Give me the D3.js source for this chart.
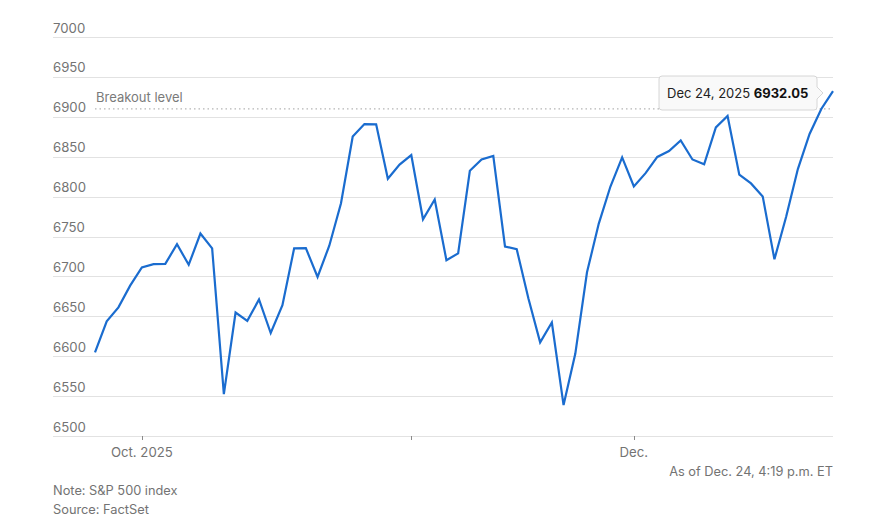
<!DOCTYPE html>
<html>
<head>
<meta charset="utf-8">
<script src="https://cdn.jsdelivr.net/npm/d3@7"></script>
<style>
  html, body { margin: 0; padding: 0; background: #fff; }
  svg { display: block; font-family: Inter, "Liberation Sans", Arial, sans-serif; }
</style>
</head>
<body>
<svg id="chart" width="886" height="523"></svg>
<script>
// ---- Data ----
const dates = [
  "2025-09-25","2025-09-26","2025-09-29","2025-09-30",
  "2025-10-01","2025-10-02","2025-10-03","2025-10-06","2025-10-07","2025-10-08","2025-10-09","2025-10-10",
  "2025-10-13","2025-10-14","2025-10-15","2025-10-16","2025-10-17","2025-10-20","2025-10-21","2025-10-22",
  "2025-10-23","2025-10-24","2025-10-27","2025-10-28","2025-10-29","2025-10-30","2025-10-31",
  "2025-11-03","2025-11-04","2025-11-05","2025-11-06","2025-11-07","2025-11-10","2025-11-11","2025-11-12",
  "2025-11-13","2025-11-14","2025-11-17","2025-11-18","2025-11-19","2025-11-20","2025-11-21","2025-11-24",
  "2025-11-25","2025-11-26","2025-11-28",
  "2025-12-01","2025-12-02","2025-12-03","2025-12-04","2025-12-05","2025-12-08","2025-12-09","2025-12-10",
  "2025-12-11","2025-12-12","2025-12-15","2025-12-16","2025-12-17","2025-12-18","2025-12-19","2025-12-22",
  "2025-12-23","2025-12-24"
];
const values = [
  6604.72, 6643.70, 6661.21, 6688.46,
  6711.20, 6715.35, 6715.79, 6740.28, 6714.59, 6753.72, 6735.11, 6552.51,
  6654.72, 6644.31, 6671.06, 6629.07, 6664.01, 6735.13, 6735.35, 6699.40,
  6738.44, 6791.69, 6875.16, 6890.89, 6890.59, 6822.34, 6840.20,
  6851.97, 6771.55, 6796.29, 6720.32, 6728.80, 6832.43, 6846.61, 6850.92,
  6737.49, 6734.11, 6672.41, 6617.32, 6642.16, 6538.76, 6602.99, 6705.12,
  6765.88, 6812.61, 6849.09,
  6812.63, 6829.37, 6849.72, 6857.12, 6870.40, 6846.51, 6840.51, 6886.68,
  6901.00, 6827.41, 6816.51, 6800.26, 6721.43, 6774.76, 6834.50, 6878.49,
  6909.79, 6932.05
];
const yTicks = [6500, 6550, 6600, 6650, 6700, 6750, 6800, 6850, 6900, 6950, 7000];
const xTickDates = ["2025-10-01", "2025-11-03", "2025-12-01"];
const xTickLabels = ["Oct. 2025", "", "Dec."];
const breakoutLevel = 6910;
const breakoutLabel = "Breakout level";
const tooltipDate = "Dec 24, 2025";
const tooltipValue = "6932.05";
const asOfText = "As of Dec. 24, 4:19 p.m. ET";
const noteText = "Note: S&P 500 index";
const sourceText = "Source: FactSet";

// ---- Layout ----
const svg = d3.select("#chart");
const gridLeft = 53, gridRight = 833;
const x = d3.scalePoint().domain(dates).range([95, 833]);
const y = d3.scaleLinear().domain([6500, 7000]).range([436, 37]);
const textColor = "#737373";

// gridlines + y labels
const yg = svg.append("g");
yTicks.forEach(t => {
  yg.append("line")
    .attr("x1", gridLeft).attr("x2", gridRight)
    .attr("y1", Math.round(y(t)) + 0.5).attr("y2", Math.round(y(t)) + 0.5)
    .attr("stroke", "#e2e2e2").attr("stroke-width", 1);
  yg.append("text")
    .attr("x", gridLeft).attr("y", y(t) - 4.5)
    .attr("fill", textColor).attr("font-size", 13.2)
    .text(t);
});

// breakout level dotted line
svg.append("line")
  .attr("x1", 95).attr("x2", gridRight)
  .attr("y1", y(breakoutLevel)).attr("y2", y(breakoutLevel))
  .attr("stroke", "#b5b5b5").attr("stroke-width", 1.3)
  .attr("stroke-dasharray", "1.5,3");
svg.append("text")
  .attr("x", 96).attr("y", y(breakoutLevel) - 7)
  .attr("fill", "#7a7a7a").attr("font-size", 13)
  .text(breakoutLabel);

// x ticks
xTickDates.forEach((d, i) => {
  const xp = Math.round(x(d)) + 0.5;
  svg.append("line")
    .attr("x1", xp).attr("x2", xp)
    .attr("y1", 436).attr("y2", 440)
    .attr("stroke", "#8a8a8a").attr("stroke-width", 1);
  if (xTickLabels[i]) {
    svg.append("text")
      .attr("x", x(d)).attr("y", 457)
      .attr("text-anchor", "middle")
      .attr("fill", textColor).attr("font-size", 13.2)
      .text(xTickLabels[i]);
  }
});

// line
const line = d3.line()
  .x((d, i) => x(dates[i]))
  .y(d => y(d));
svg.append("path")
  .datum(values)
  .attr("d", line)
  .attr("fill", "none")
  .attr("stroke", "#1a6ccf")
  .attr("stroke-width", 2.2)
  .attr("stroke-linejoin", "miter");

// tooltip
const lx = x(dates[dates.length - 1]);
const ly = y(values[values.length - 1]);
const boxR = lx - 16, boxL = boxR - 158, boxT = 76, boxB = 110;
const midY = (boxT + boxB) / 2;
const tip = svg.append("g");
tip.append("path")
  .attr("d", `M${boxL + 3},${boxT} H${boxR - 3} Q${boxR},${boxT} ${boxR},${boxT + 3} V${midY - 6} L${boxR + 6},${midY} L${boxR},${midY + 6} V${boxB - 3} Q${boxR},${boxB} ${boxR - 3},${boxB} H${boxL + 3} Q${boxL},${boxB} ${boxL},${boxB - 3} V${boxT + 3} Q${boxL},${boxT} ${boxL + 3},${boxT} Z`)
  .attr("fill", "#f9f9f9").attr("stroke", "#d6d6d6").attr("stroke-width", 1);
const tt = tip.append("text")
  .attr("x", boxL + 8).attr("y", midY + 5)
  .attr("font-size", 13).attr("fill", "#222");
tt.append("tspan").text(tooltipDate + " ");
tt.append("tspan").attr("font-weight", "bold").attr("fill", "#111").text(tooltipValue);

// footer texts
svg.append("text")
  .attr("x", gridRight).attr("y", 476)
  .attr("text-anchor", "end")
  .attr("fill", textColor).attr("font-size", 12.8)
  .text(asOfText);
svg.append("text")
  .attr("x", gridLeft).attr("y", 495)
  .attr("fill", textColor).attr("font-size", 12.8)
  .text(noteText);
svg.append("text")
  .attr("x", gridLeft).attr("y", 514)
  .attr("fill", textColor).attr("font-size", 12.8)
  .text(sourceText);
</script>
</body>
</html>
